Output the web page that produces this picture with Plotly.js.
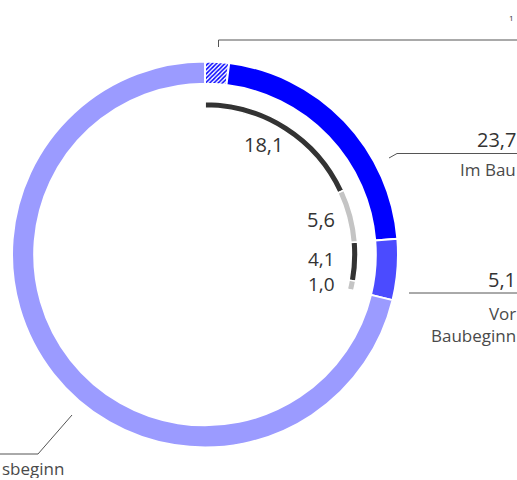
<!DOCTYPE html>
<html>
<head>
<meta charset="utf-8">
<script src="https://cdn.plot.ly/plotly-3.0.1.min.js"></script>
<style>html,body{margin:0;padding:0;background:#fff;}#chart{width:517px;height:480px;}</style>
</head>
<body>
<div id="chart"></div>
<script>
// Outer ring (share, %)
const outerLabels = ['Im Bau (1)', 'Im Bau', 'Vor Baubeginn', 'sbeginn'];
const outerValues = [2.0, 21.7, 5.1, 71.2];
const outerColors = ['#0000ff', '#0000ff', '#4b4bff', '#9b9bff'];

// Inner breakdown arcs
const innerLabels = ['Im Bau A', 'Im Bau B', 'Vor Baubeginn A', 'Vor Baubeginn B', ''];
const innerValues = [18.1, 5.6, 4.1, 1.0, 71.2];
const innerColors = ['#333333', '#c4c4c4', '#333333', '#c4c4c4', 'rgba(0,0,0,0)'];
const innerText = ['18,1', '5,6', '4,1', '1,0'];

// Category labels
const catValues = ['23,7', '5,1'];
const catNames = ['Im Bau', 'Vor<br>Baubeginn', 'sbeginn'];

const W = 517, H = 480;
const px = x => x / W;
const py = y => 1 - y / H;

const outer = {
  type: 'pie', values: outerValues, labels: outerLabels, sort: false,
  direction: 'clockwise', rotation: 0, hole: 0.885,
  textinfo: 'none', hoverinfo: 'none', showlegend: false,
  marker: {
    colors: outerColors,
    line: {color: '#ffffff', width: 2},
    pattern: {shape: ['/', '', '', ''], fgcolor: '#0000ff', bgcolor: '#ffffff', size: 3, solidity: 0.5}
  },
  domain: {x: [px(12), px(398)], y: [py(447.5), py(61.5)]}
};
const inner = {
  type: 'pie', values: innerValues, labels: innerLabels, sort: false,
  direction: 'clockwise', rotation: 0, hole: 0.957,
  textinfo: 'none', hoverinfo: 'none', showlegend: false,
  marker: {colors: innerColors, line: {color: '#ffffff', width: 1.5}},
  domain: {x: [px(52), px(358)], y: [py(407.5), py(101.5)]}
};

const FONT = '"Open Sans", sans-serif';
const numFont = {family: FONT, size: 20, color: '#333333'};
const nameFont = {family: FONT, size: 17, color: '#4a4a4a'};
const annotations = [
  {text: innerText[0], x: px(263), y: py(145), xanchor: 'center'},
  {text: innerText[1], x: px(337), y: py(219), xanchor: 'right'},
  {text: innerText[2] + '<br>' + innerText[3], x: px(337), y: py(271), xanchor: 'right', align: 'right', size: 19}
].map(a => ({
  text: a.text, x: a.x, y: a.y, xref: 'paper', yref: 'paper', xanchor: a.xanchor, yanchor: 'middle',
  align: a.align || 'center', showarrow: false,
  font: Object.assign({}, numFont, a.size ? {size: a.size} : {})
}));
annotations.push(
  {text: catValues[0], x: px(518), y: py(139), xref: 'paper', yref: 'paper', xanchor: 'right', yanchor: 'middle', showarrow: false, font: numFont},
  {text: catNames[0], x: px(518), y: py(169), xref: 'paper', yref: 'paper', xanchor: 'right', yanchor: 'middle', showarrow: false, font: nameFont},
  {text: catValues[1], x: px(518), y: py(279), xref: 'paper', yref: 'paper', xanchor: 'right', yanchor: 'middle', showarrow: false, font: numFont},
  {text: catNames[1], x: px(518), y: py(324), xref: 'paper', yref: 'paper', xanchor: 'right', yanchor: 'middle', align: 'right', showarrow: false, font: nameFont},
  {text: '1', x: px(516), y: py(18), xref: 'paper', yref: 'paper', xanchor: 'right', yanchor: 'middle', showarrow: false, font: {family: FONT, size: 8, color: '#333'}},
  {text: catNames[2], x: 0, y: 0, xref: 'paper', yref: 'paper', xanchor: 'left', yanchor: 'bottom', height: 20, showarrow: false, font: nameFont}
);

const lineStyle = {color: '#555555', width: 1};
function seg(x0, y0, x1, y1) {
  return {type: 'line', xref: 'paper', yref: 'paper', x0: px(x0), y0: py(y0), x1: px(x1), y1: py(y1), line: lineStyle};
}
const shapeList = [
  seg(218.5, 47, 218.5, 40), seg(218.5, 40, 517, 40),
  seg(389, 158, 397, 153.5), seg(397, 153.5, 517, 153.5),
  seg(409, 293, 517, 293),
  seg(72, 415, 38, 454), seg(38, 454, -5, 454)
];

Plotly.newPlot('chart', [outer, inner], {
  width: W, height: H, margin: {l: 0, r: 0, t: 0, b: 0},
  paper_bgcolor: '#ffffff', plot_bgcolor: '#ffffff',
  annotations: annotations, shapes: shapeList
}, {staticPlot: true, displayModeBar: false});
</script>
</body>
</html>
